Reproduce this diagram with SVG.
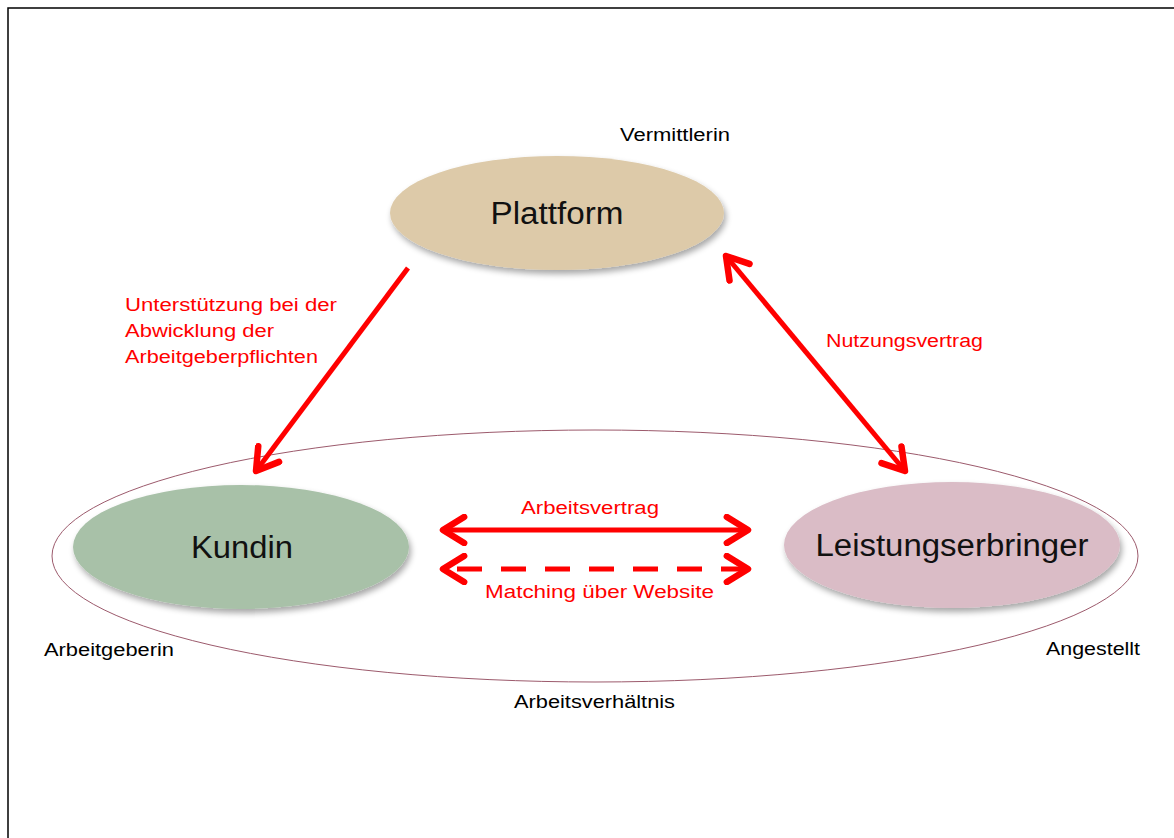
<svg xmlns="http://www.w3.org/2000/svg" width="1174" height="838" viewBox="0 0 1174 838">
<style>
.lbl{font-family:"Liberation Sans",Arial,sans-serif;font-size:18px;fill:#000}
.red{font-family:"Liberation Sans",Arial,sans-serif;font-size:18px;fill:#ff0000}
.node{font-family:"Liberation Sans",Arial,sans-serif;fill:#111;text-anchor:middle}
.arr{stroke:#ff0000;stroke-width:5;fill:none}
</style>
<defs>
<filter id="sh" x="-10%" y="-20%" width="125%" height="150%">
<feGaussianBlur in="SourceAlpha" stdDeviation="3"/>
<feOffset dx="2" dy="4" result="b"/>
<feComponentTransfer><feFuncA type="linear" slope="0.35"/></feComponentTransfer>
<feMerge><feMergeNode/><feMergeNode in="SourceGraphic"/></feMerge>
</filter>
<marker id="ah" viewBox="0 0 20 20" refX="17" refY="10" markerWidth="6.5" markerHeight="6.5" orient="auto-start-reverse" markerUnits="strokeWidth">
<path d="M4,2 L17,10 L4,18" fill="none" stroke="#ff0000" stroke-width="4" stroke-linecap="round" stroke-linejoin="round"/>
</marker>
</defs>
<rect width="1174" height="838" fill="#fff"/>
<rect x="8" y="8" width="1180" height="850" fill="none" stroke="#000" stroke-width="1.5"/>

<g id="beziehung">
<ellipse cx="595" cy="556" rx="543" ry="126" fill="none" stroke="#9c5a6c" stroke-width="1"/>
<text class="lbl" x="514" y="708" textLength="161" lengthAdjust="spacingAndGlyphs">Arbeitsverhältnis</text>
</g>

<g id="plattform">
<ellipse cx="557" cy="213" rx="167" ry="57" fill="#ddcaa9" filter="url(#sh)"/>
<text class="node" x="557" y="224" font-size="31" textLength="133" lengthAdjust="spacingAndGlyphs">Plattform</text>
<text class="lbl" x="620" y="141" textLength="110" lengthAdjust="spacingAndGlyphs">Vermittlerin</text>
</g>

<g id="kundin">
<ellipse cx="241" cy="547" rx="168" ry="62" fill="#a8c1a8" filter="url(#sh)"/>
<text class="node" x="242" y="558" font-size="31" textLength="102" lengthAdjust="spacingAndGlyphs">Kundin</text>
<text class="lbl" x="44" y="656" textLength="130" lengthAdjust="spacingAndGlyphs">Arbeitgeberin</text>
</g>

<g id="leistungserbringer">
<ellipse cx="952" cy="545" rx="168" ry="63" fill="#dabcc6" filter="url(#sh)"/>
<text class="node" x="952" y="556" font-size="31" textLength="273" lengthAdjust="spacingAndGlyphs">Leistungserbringer</text>
<text class="lbl" x="1046" y="655" textLength="94" lengthAdjust="spacingAndGlyphs">Angestellt</text>
</g>

<g id="connectors">
<line class="arr" x1="408" y1="268" x2="256" y2="471" marker-end="url(#ah)"/>
<line class="arr" x1="726" y1="256" x2="905" y2="471" marker-start="url(#ah)" marker-end="url(#ah)"/>
<line class="arr" x1="443" y1="530" x2="748" y2="530" marker-start="url(#ah)" marker-end="url(#ah)"/>
<line class="arr" x1="443" y1="569" x2="748" y2="569" stroke-dasharray="25,19" stroke-dashoffset="-14" marker-start="url(#ah)" marker-end="url(#ah)"/>
<text class="red" x="125" y="311" textLength="212" lengthAdjust="spacingAndGlyphs">Unterstützung  bei der</text>
<text class="red" x="125" y="337" textLength="149" lengthAdjust="spacingAndGlyphs">Abwicklung  der</text>
<text class="red" x="125" y="363" textLength="193" lengthAdjust="spacingAndGlyphs">Arbeitgeberpflichten</text>
<text class="red" x="826" y="347" textLength="157" lengthAdjust="spacingAndGlyphs">Nutzungsvertrag</text>
<text class="red" x="521" y="514" textLength="138" lengthAdjust="spacingAndGlyphs">Arbeitsvertrag</text>
<text class="red" x="485" y="598" textLength="229" lengthAdjust="spacingAndGlyphs">Matching über Website</text>
</g>
</svg>
